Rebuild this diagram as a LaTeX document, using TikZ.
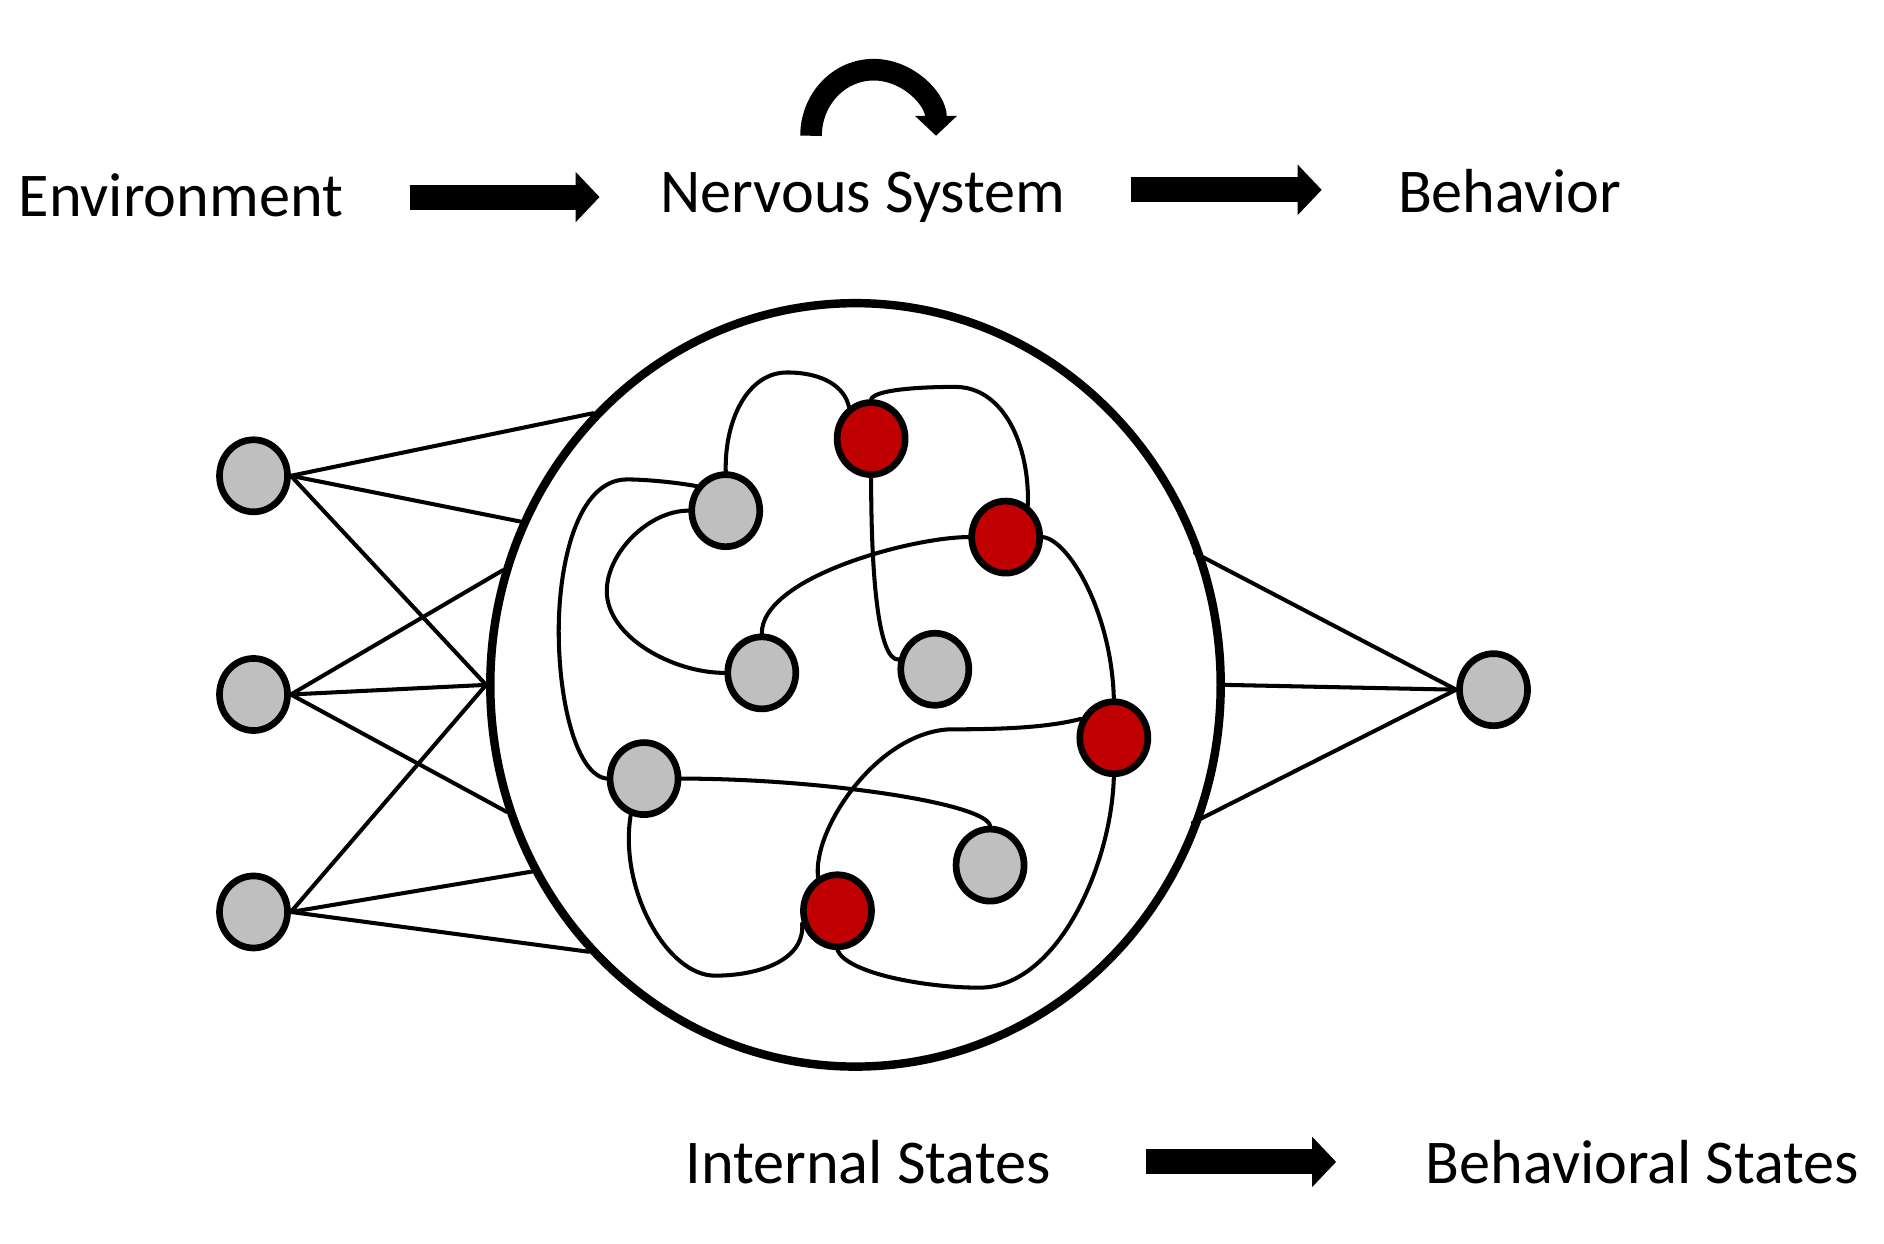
\documentclass[tikz,border=0pt]{standalone}
\usepackage{fontspec}
\setmainfont{Carlito}
\usepackage{tikz}
\usetikzlibrary{arrows.meta}
\usetikzlibrary{shapes.geometric}
\definecolor{cellgray}{RGB}{191,191,191}
\definecolor{cellred}{RGB}{192,0,0}
\tikzstyle{cell}=[ellipse,draw=black,line width=1.9pt,fill=cellgray,minimum width=0.68cm,minimum height=0.72cm,inner sep=0pt]
\tikzstyle{red cell}=[cell,fill=cellred]
\tikzstyle{wire}=[line width=1.15pt,line cap=round]
\tikzstyle{fat arrow}=[line width=0.25cm,-{Triangle[width=0.49cm,length=0.24cm]}]
\tikzstyle{caption}=[inner sep=0pt,anchor=base west,font=\fontsize{17.7pt}{21pt}\selectfont]

\begin{document}
\begin{tikzpicture}[x=0.012015cm,y=-0.012015cm]
	\useasboundingbox (0,0) rectangle (1568,1035);

	% Top row
	\node[caption] (env) at (15,180) {Environment};
	\node[caption] (ns) at (549,177) {Nervous System};
	\node[caption] (beh) at (1163,177) {Behavior};
	\coordinate (A1) at (341,164); \coordinate (A2) at (499,164);
	\coordinate (B1) at (941,158); \coordinate (B2) at (1100,158);
	\draw[fat arrow] (A1) -- (A2);
	\draw[fat arrow] (B1) -- (B2);
	% Loop over the nervous system
	\draw[line width=0.216cm,-{Triangle[width=0.41cm,length=0.2cm]}] (675,113) coordinate (loop)
		arc[start angle=180,end angle=360,x radius=52,y radius=55];

	% Bottom row
	\node[caption] (ins) at (570,985) {Internal States};
	\node[caption] (bs) at (1186,985) {Behavioral States};
	\coordinate (C1) at (954,967); \coordinate (C2) at (1112,967);
	\draw[fat arrow] (C1) -- (C2);

	% The brain
	\node[ellipse,draw,line width=2.4pt,minimum width=7.3cm,minimum height=7.63cm,inner sep=0pt] (brain) at (712,570) {};

	% Input and output cells
	\foreach \i/\y in {1/396,2/578,3/759}
		\node[cell] (in\i) at (211,\y) {};
	\node[cell] (out) at (1243,574) {};

	\foreach \a in {134,154,180} \draw[wire] (in1.east) -- (brain.\a);
	\foreach \a in {162,180,200} \draw[wire] (in2.east) -- (brain.\a);
	\foreach \a in {180,210,225.5} \draw[wire] (in3.east) -- (brain.\a);
	\draw[wire,shorten <=-3pt] (brain.20.4) -- (out.west);
	\draw[wire] (brain.0) -- (out.west);
	\draw[wire,shorten <=-3pt] (brain.-21.2) -- (out.west);

	% Cells inside
	\node[cell] (g1) at (604,425) {};
	\node[red cell] (r1) at (725,365) {};
	\node[red cell] (r2) at (837,447) {};
	\node[cell] (g2) at (634,560) {};
	\node[cell] (g3) at (778,557) {};
	\node[red cell] (r3) at (927,614) {};
	\node[cell] (g4) at (536,648) {};
	\node[cell] (g5) at (824,720) {};
	\node[red cell] (r4) at (697,758) {};

	% Links between them
	\draw[wire] (g1.north) .. controls (603,350) and (622,310) .. (655,310) .. controls (685,310) and (703,322) .. (r1.125);
	\draw[wire] (r1.north) .. controls (728,325) and (760,322) .. (795,322) .. controls (835,322) and (857,370) .. (r2.55);
	\draw[wire] (r1.south) .. controls (725,480) and (731,550) .. (g3.165);
	\draw[wire] (r2.west) .. controls (760,447) and (634,480) .. (g2.north);
	\draw[wire] (r2.east) .. controls (890,450) and (925,510) .. (r3.north);
	\draw[wire] (g1.140) .. controls (560,401) and (535,399) .. (522,399) .. controls (480,399) and (465,470) .. (465,525)
		.. controls (465,585) and (480,645) .. (g4.west);
	\draw[wire] (g1.west) .. controls (540,425) and (505,460) .. (505,492) .. controls (505,530) and (560,560) .. (g2.west);
	\draw[wire] (g4.east) .. controls (680,648) and (820,668) .. (g5.north);
	\draw[wire] (g4.250) .. controls (515,740) and (555,812) .. (595,812) .. controls (630,812) and (670,800) .. (r4.200);
	\draw[wire] (r3.150) .. controls (870,606) and (830,607) .. (790,607) .. controls (730,610) and (676,690) .. (r4.120);
	\draw[wire] (r4.south) .. controls (705,810) and (770,822) .. (815,822) .. controls (880,822) and (925,720) .. (r3.south);
\end{tikzpicture}
\end{document}
